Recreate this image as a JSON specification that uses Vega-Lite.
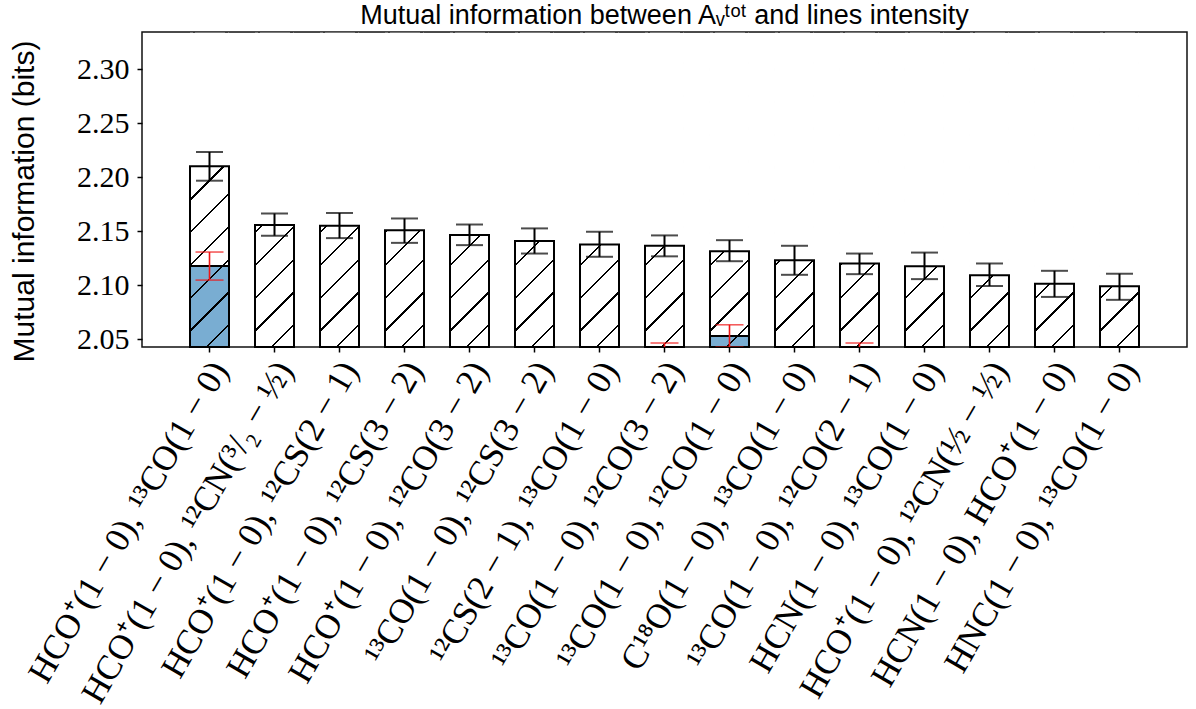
{
  "$schema": "https://vega.github.io/schema/vega-lite/v6.json",
  "width": 1045,
  "height": 315,
  "autosize": "none",
  "padding": {"left": 142, "top": 32, "right": 9, "bottom": 362},
  "background": "white",
  "config": {
    "view": {"stroke": "#111", "strokeWidth": 1.5, "fill": "white"},
    "axis": {"grid": false, "domain": false, "tickColor": "#000", "tickWidth": 1.5, "tickSize": 5, "labelColor": "#000", "titleColor": "#000"},
    "axisY": {"labelFont": "Liberation Serif", "labelFontSize": 30, "labelPadding": 8, "titleFont": "Liberation Sans", "titleFontSize": 30, "titleFontWeight": "normal"}
  },
  "title": {
    "text": "Mutual information between Aᵥᵗᵒᵗ and lines intensity",
    "font": "Liberation Sans",
    "fontSize": 27,
    "fontWeight": "normal",
    "color": "#000",
    "anchor": "middle",
    "frame": "group",
    "baseline": "bottom",
    "offset": 9,
    "dy": 34
  },
  "data": {
    "values": [
      {"label": "HCO⁺(1 − 0), ¹³CO(1 − 0)", "mi": 2.2100, "lo": 2.1967, "hi": 2.2233, "sub": 2.1176, "sub_lo": 2.1046, "sub_hi": 2.1306},
      {"label": "HCO⁺(1 − 0), ¹²CN(³/₂ − ½)", "mi": 2.1556, "lo": 2.1457, "hi": 2.1663, "sub": null, "sub_lo": null, "sub_hi": null},
      {"label": "HCO⁺(1 − 0), ¹²CS(2 − 1)", "mi": 2.1550, "lo": 2.1435, "hi": 2.1668, "sub": null, "sub_lo": null, "sub_hi": null},
      {"label": "HCO⁺(1 − 0), ¹²CS(3 − 2)", "mi": 2.1509, "lo": 2.1391, "hi": 2.1617, "sub": null, "sub_lo": null, "sub_hi": null},
      {"label": "HCO⁺(1 − 0), ¹²CO(3 − 2)", "mi": 2.1463, "lo": 2.1370, "hi": 2.1561, "sub": null, "sub_lo": null, "sub_hi": null},
      {"label": "¹³CO(1 − 0), ¹²CS(3 − 2)", "mi": 2.1408, "lo": 2.1292, "hi": 2.1525, "sub": null, "sub_lo": null, "sub_hi": null},
      {"label": "¹²CS(2 − 1), ¹³CO(1 − 0)", "mi": 2.1375, "lo": 2.1262, "hi": 2.1494, "sub": null, "sub_lo": null, "sub_hi": null},
      {"label": "¹³CO(1 − 0), ¹²CO(3 − 2)", "mi": 2.1365, "lo": 2.1266, "hi": 2.1460, "sub": 2.0360, "sub_lo": 2.0257, "sub_hi": 2.0463},
      {"label": "¹³CO(1 − 0), ¹²CO(1 − 0)", "mi": 2.1314, "lo": 2.1221, "hi": 2.1416, "sub": 2.0528, "sub_lo": 2.0424, "sub_hi": 2.0632},
      {"label": "C¹⁸O(1 − 0), ¹³CO(1 − 0)", "mi": 2.1229, "lo": 2.1095, "hi": 2.1364, "sub": null, "sub_lo": null, "sub_hi": null},
      {"label": "¹³CO(1 − 0), ¹²CO(2 − 1)", "mi": 2.1199, "lo": 2.1101, "hi": 2.1292, "sub": 2.0360, "sub_lo": 2.0257, "sub_hi": 2.0463},
      {"label": "HCN(1 − 0), ¹³CO(1 − 0)", "mi": 2.1175, "lo": 2.1055, "hi": 2.1301, "sub": null, "sub_lo": null, "sub_hi": null},
      {"label": "HCO⁺(1 − 0), ¹²CN(½ − ½)", "mi": 2.1092, "lo": 2.0991, "hi": 2.1200, "sub": null, "sub_lo": null, "sub_hi": null},
      {"label": "HCN(1 − 0), HCO⁺(1 − 0)", "mi": 2.1012, "lo": 2.0890, "hi": 2.1132, "sub": null, "sub_lo": null, "sub_hi": null},
      {"label": "HNC(1 − 0), ¹³CO(1 − 0)", "mi": 2.0988, "lo": 2.0863, "hi": 2.1105, "sub": null, "sub_lo": null, "sub_hi": null}
    ]
  },
  "encoding": {
    "x": {
      "field": "label",
      "type": "nominal",
      "sort": null,
      "scale": {
        "domain": [
          "HCO⁺(1 − 0), ¹³CO(1 − 0)",
          "HCO⁺(1 − 0), ¹²CN(³/₂ − ½)",
          "HCO⁺(1 − 0), ¹²CS(2 − 1)",
          "HCO⁺(1 − 0), ¹²CS(3 − 2)",
          "HCO⁺(1 − 0), ¹²CO(3 − 2)",
          "¹³CO(1 − 0), ¹²CS(3 − 2)",
          "¹²CS(2 − 1), ¹³CO(1 − 0)",
          "¹³CO(1 − 0), ¹²CO(3 − 2)",
          "¹³CO(1 − 0), ¹²CO(1 − 0)",
          "C¹⁸O(1 − 0), ¹³CO(1 − 0)",
          "¹³CO(1 − 0), ¹²CO(2 − 1)",
          "HCN(1 − 0), ¹³CO(1 − 0)",
          "HCO⁺(1 − 0), ¹²CN(½ − ½)",
          "HCN(1 − 0), HCO⁺(1 − 0)",
          "HNC(1 − 0), ¹³CO(1 − 0)"
        ],
        "paddingInner": 0.4,
        "paddingOuter": 0.7385
      },
      "axis": {
        "title": null,
        "labelAngle": -60,
        "labelAlign": "right",
        "labelBaseline": "middle",
        "labelFont": "Liberation Serif",
        "labelFontSize": 35,
        "labelLimit": 1000,
        "labelOverlap": false,
        "labelPadding": 12,
        "labelOffset": 10
      }
    }
  },
  "layer": [
    {
      "mark": {"type": "bar", "fill": "#79add2", "clip": true},
      "encoding": {
        "y": {
          "field": "sub",
          "type": "quantitative",
          "scale": {"domain": [2.0426, 2.3345], "zero": false, "nice": false},
          "axis": {
            "title": "Mutual information (bits)",
            "values": [2.05, 2.1, 2.15, 2.2, 2.25, 2.3],
            "format": ".2f",
            "labelFont": "Liberation Serif",
            "labelFontSize": 30,
            "labelPadding": 8,
            "titleFont": "Liberation Sans",
            "titleFontSize": 30,
            "titleFontWeight": "normal",
            "titleAngle": -90,
            "titleAlign": "center",
            "titleBaseline": "alphabetic",
            "titleX": -109,
            "titleY": 169
          }
        },
        "y2": {"datum": 2.0426}
      }
    },
    {
      "mark": {
        "type": "bar",
        "stroke": null,
        "fill": {
          "gradient": "linear",
          "x1": 0, "y1": 0, "x2": 0.137038, "y2": 1.106843,
          "stops": [
            {"offset": 0, "color": "rgba(0,0,0,0)"},
            {"offset": 0.0085, "color": "rgba(0,0,0,0)"}, {"offset": 0.0085, "color": "#000"}, {"offset": 0.0153, "color": "#000"}, {"offset": 0.0153, "color": "rgba(0,0,0,0)"},
            {"offset": 0.1010, "color": "rgba(0,0,0,0)"}, {"offset": 0.1010, "color": "#000"}, {"offset": 0.1078, "color": "#000"}, {"offset": 0.1078, "color": "rgba(0,0,0,0)"},
            {"offset": 0.1935, "color": "rgba(0,0,0,0)"}, {"offset": 0.1935, "color": "#000"}, {"offset": 0.2003, "color": "#000"}, {"offset": 0.2003, "color": "rgba(0,0,0,0)"},
            {"offset": 0.2860, "color": "rgba(0,0,0,0)"}, {"offset": 0.2860, "color": "#000"}, {"offset": 0.2928, "color": "#000"}, {"offset": 0.2928, "color": "rgba(0,0,0,0)"},
            {"offset": 0.3785, "color": "rgba(0,0,0,0)"}, {"offset": 0.3785, "color": "#000"}, {"offset": 0.3853, "color": "#000"}, {"offset": 0.3853, "color": "rgba(0,0,0,0)"},
            {"offset": 0.4710, "color": "rgba(0,0,0,0)"}, {"offset": 0.4710, "color": "#000"}, {"offset": 0.4778, "color": "#000"}, {"offset": 0.4778, "color": "rgba(0,0,0,0)"},
            {"offset": 0.5636, "color": "rgba(0,0,0,0)"}, {"offset": 0.5636, "color": "#000"}, {"offset": 0.5704, "color": "#000"}, {"offset": 0.5704, "color": "rgba(0,0,0,0)"},
            {"offset": 0.6561, "color": "rgba(0,0,0,0)"}, {"offset": 0.6561, "color": "#000"}, {"offset": 0.6629, "color": "#000"}, {"offset": 0.6629, "color": "rgba(0,0,0,0)"},
            {"offset": 0.7486, "color": "rgba(0,0,0,0)"}, {"offset": 0.7486, "color": "#000"}, {"offset": 0.7554, "color": "#000"}, {"offset": 0.7554, "color": "rgba(0,0,0,0)"},
            {"offset": 0.8411, "color": "rgba(0,0,0,0)"}, {"offset": 0.8411, "color": "#000"}, {"offset": 0.8479, "color": "#000"}, {"offset": 0.8479, "color": "rgba(0,0,0,0)"},
            {"offset": 0.9336, "color": "rgba(0,0,0,0)"}, {"offset": 0.9336, "color": "#000"}, {"offset": 0.9404, "color": "#000"}, {"offset": 0.9404, "color": "rgba(0,0,0,0)"},
            {"offset": 1, "color": "rgba(0,0,0,0)"}
          ]
        }
      },
      "encoding": {
        "y": {"datum": 2.0426, "type": "quantitative", "scale": {"domain": [2.0426, 2.3345], "zero": false, "nice": false}},
        "y2": {"datum": 2.3345}
      }
    },
    {
      "mark": {"type": "bar", "fill": "white", "stroke": null},
      "encoding": {
        "y": {"field": "mi", "type": "quantitative", "scale": {"domain": [2.0426, 2.3345], "zero": false, "nice": false}},
        "y2": {"datum": 2.3338}
      }
    },
    {
      "mark": {"type": "bar", "fillOpacity": 0, "stroke": "#000", "strokeWidth": 2},
      "encoding": {
        "y": {"field": "mi", "type": "quantitative", "scale": {"domain": [2.0426, 2.3345], "zero": false, "nice": false}},
        "y2": {"datum": 2.0426}
      }
    },
    {
      "mark": {"type": "bar", "fillOpacity": 0, "stroke": "#000", "strokeWidth": 2, "clip": true},
      "encoding": {
        "y": {"field": "sub", "type": "quantitative", "scale": {"domain": [2.0426, 2.3345], "zero": false, "nice": false}},
        "y2": {"datum": 2.0426}
      }
    },
    {
      "mark": {"type": "rule", "color": "#000", "strokeWidth": 2},
      "encoding": {
        "y": {"field": "lo", "type": "quantitative", "scale": {"domain": [2.0426, 2.3345], "zero": false, "nice": false}},
        "y2": {"field": "hi"}
      }
    },
    {
      "mark": {"type": "tick", "orient": "horizontal", "color": "#000", "size": 27, "thickness": 2},
      "encoding": {
        "y": {"field": "lo", "type": "quantitative", "scale": {"domain": [2.0426, 2.3345], "zero": false, "nice": false}}
      }
    },
    {
      "mark": {"type": "tick", "orient": "horizontal", "color": "#000", "size": 27, "thickness": 2},
      "encoding": {
        "y": {"field": "hi", "type": "quantitative", "scale": {"domain": [2.0426, 2.3345], "zero": false, "nice": false}}
      }
    },
    {
      "mark": {"type": "rule", "color": "#f01515", "strokeWidth": 1.6, "clip": true},
      "encoding": {
        "y": {"field": "sub_lo", "type": "quantitative", "scale": {"domain": [2.0426, 2.3345], "zero": false, "nice": false}},
        "y2": {"field": "sub_hi"}
      }
    },
    {
      "mark": {"type": "tick", "orient": "horizontal", "color": "#f01515", "size": 28, "thickness": 1.6, "clip": true},
      "encoding": {
        "y": {"field": "sub_lo", "type": "quantitative", "scale": {"domain": [2.0426, 2.3345], "zero": false, "nice": false}}
      }
    },
    {
      "mark": {"type": "tick", "orient": "horizontal", "color": "#f01515", "size": 28, "thickness": 1.6, "clip": true},
      "encoding": {
        "y": {"field": "sub_hi", "type": "quantitative", "scale": {"domain": [2.0426, 2.3345], "zero": false, "nice": false}}
      }
    }
  ]
}
